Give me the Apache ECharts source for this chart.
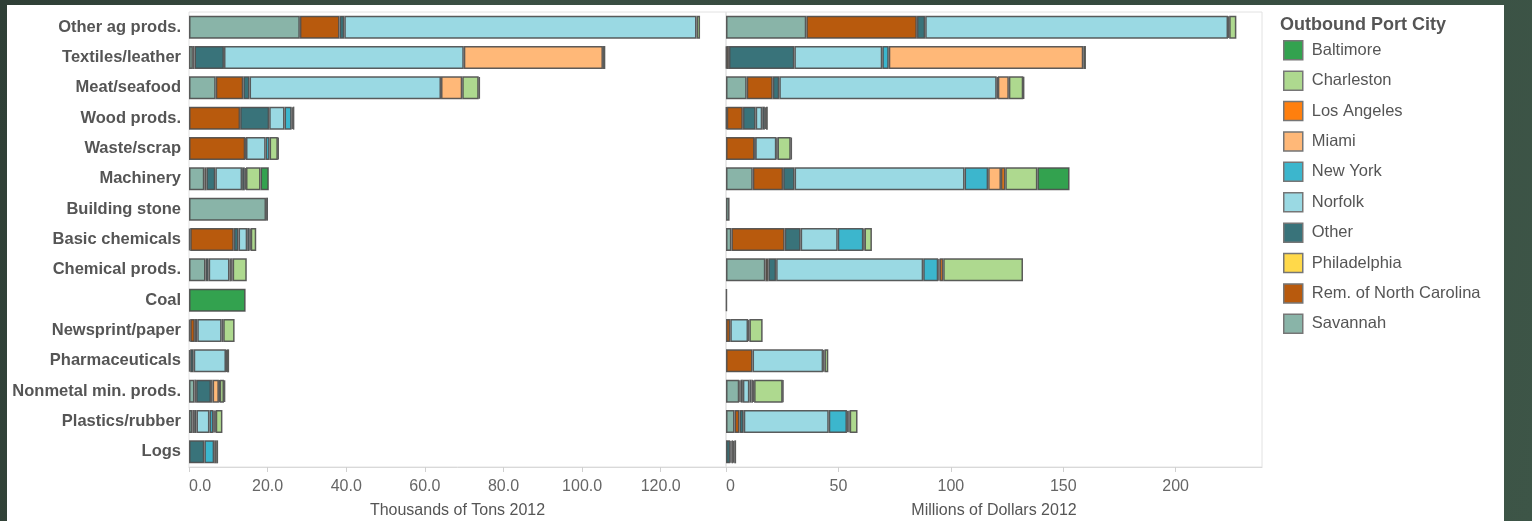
<!DOCTYPE html>
<html>
<head>
<meta charset="utf-8">
<script src="https://cdn.jsdelivr.net/npm/echarts@6/dist/echarts.min.js"></script>
<style>
  html, body { margin: 0; padding: 0; }
  body {
    width: 1532px; height: 521px; overflow: hidden; position: relative;
    background: linear-gradient(100deg, #2f3f36 0%, #3b5044 30%, #34483d 60%, #3d5547 100%);
  }
  #panel { position: absolute; left: 7px; top: 5px; width: 1497px; height: 520px; background: #ffffff; }
  #chart { position: absolute; left: 0; top: 0; width: 1532px; height: 521px; }
</style>
</head>
<body>
<div id="panel"></div>
<div id="chart"></div>
<script>
// Commodity groups, top to bottom
const categories = [
  'Other ag prods.', 'Textiles/leather', 'Meat/seafood', 'Wood prods.', 'Waste/scrap',
  'Machinery', 'Building stone', 'Basic chemicals', 'Chemical prods.', 'Coal',
  'Newsprint/paper', 'Pharmaceuticals', 'Nonmetal min. prods.', 'Plastics/rubber', 'Logs'
];

// Thousands of tons, 2012, by outbound port city (null = no shipments)
const savannahTons     = [28.2, 1.0, 6.8, null, null, 3.9, 19.6, 0.3, 4.2, null, 0.3, 0.3, 1.4, 0.9, null];
const remNCTons        = [10.1, 0.4, 7.0, 13.0, 14.3, 0.5, null, 11.1, null, null, 1.2, null, 0.4, 0.4, null];
const philadelphiaTons = [null, null, null, null, null, null, null, null, null, null, null, null, null, null, null];
const otherTons        = [1.2, 7.5, 1.6, 7.4, 0.2, 2.3, 0.5, 1.2, 0.8, null, 0.6, 0.9, 3.8, 0.6, 3.9];
const norfolkTons      = [89.6, 61.0, 48.7, 3.9, 5.0, 6.8, null, 2.2, 5.3, null, 6.2, 8.2, 0.4, 3.3, null];
const newYorkTons      = [null, null, null, 1.8, 1.0, 0.7, null, 0.6, 0.4, null, 0.4, 0.2, null, 1.0, 2.5];
const miamiTons        = [null, 35.4, 5.4, 0.3, null, 0.3, null, 0.3, 0.4, null, null, null, 1.6, 0.3, 0.5];
const losAngelesTons   = [null, null, null, null, null, null, null, null, null, null, null, null, 0.2, 0.3, null];
const charlestonTons   = [0.9, 0.6, 4.2, 0.4, 2.1, 3.7, null, 1.4, 3.6, null, 2.9, 0.6, 1.1, 1.7, 0.5];
const baltimoreTons    = [null, null, 0.3, null, 0.2, 2.1, null, null, null, 14.4, null, null, 0.3, null, null];

// Millions of dollars, 2012, by outbound port city
const savannahDollars     = [35.7, 0.3, 9.2, 0.3, null, 11.9, 1.6, 2.4, 17.5, null, null, null, 5.9, 3.8, null];
const remNCDollars        = [49.2, 1.0, 11.6, 7.2, 12.7, 13.5, null, 23.7, 1.3, null, 1.9, 11.8, 0.6, 2.2, null];
const philadelphiaDollars = [null, null, null, null, null, null, null, null, null, null, null, null, null, null, null];
const otherDollars        = [3.7, 29.1, 2.9, 5.7, 0.3, 5.1, null, 7.1, 3.5, null, null, null, 1.0, 1.9, 1.9];
const norfolkDollars      = [134.7, 39.1, 96.7, 2.9, 9.4, 75.6, null, 16.5, 65.4, null, 7.9, 31.4, 2.9, 37.8, null];
const newYorkDollars      = [0.5, 2.9, 0.5, 1.2, 0.5, 10.5, null, 11.4, 6.7, null, 0.6, 0.6, 0.9, 8.1, 0.6];
const miamiDollars        = [null, 86.5, 4.9, 0.5, null, 5.7, null, 0.5, 0.6, null, null, null, 0.7, 0.6, 0.7];
const losAngelesDollars   = [null, null, null, null, null, 1.9, null, null, 1.6, null, null, null, 0.5, 0.6, 0.5];
const charlestonDollars   = [3.2, 1.2, 6.4, 0.8, 5.9, 14.3, null, 3.3, 35.5, null, 5.9, 1.7, 12.7, 3.5, 0.8];
const baltimoreDollars    = [null, null, 0.4, null, 0.5, 14.3, null, null, null, 0.4, null, null, 0.3, null, null];

// Axis tick values
const tonsTicks = [0, 20, 40, 60, 80, 100, 120];
const dollarTicks = [0, 50, 100, 150, 200];

// Ports in stacking order (left to right inside each bar)
const ports = [
  { name: 'Savannah',               color: '#89b4a8', tons: savannahTons,     dollars: savannahDollars },
  { name: 'Rem. of North Carolina', color: '#b85a0d', tons: remNCTons,        dollars: remNCDollars },
  { name: 'Philadelphia',           color: '#ffd94a', tons: philadelphiaTons, dollars: philadelphiaDollars },
  { name: 'Other',                  color: '#39737a', tons: otherTons,        dollars: otherDollars },
  { name: 'Norfolk',                color: '#9ad9e3', tons: norfolkTons,      dollars: norfolkDollars },
  { name: 'New York',               color: '#3cb6cd', tons: newYorkTons,      dollars: newYorkDollars },
  { name: 'Miami',                  color: '#ffb878', tons: miamiTons,        dollars: miamiDollars },
  { name: 'Los Angeles',            color: '#ff7f0e', tons: losAngelesTons,   dollars: losAngelesDollars },
  { name: 'Charleston',             color: '#aed98f', tons: charlestonTons,   dollars: charlestonDollars },
  { name: 'Baltimore',              color: '#33a24f', tons: baltimoreTons,    dollars: baltimoreDollars }
];

// Legend order (alphabetical)
const legendOrder = [
  'Baltimore', 'Charleston', 'Los Angeles', 'Miami', 'New York',
  'Norfolk', 'Other', 'Philadelphia', 'Rem. of North Carolina', 'Savannah'
];

const FONT = '"Liberation Sans", Arial, Helvetica, sans-serif';
const TEXT = '#555555';
const FRAME = '#e2e2e2';

function barSeries(port, which, axisIndex) {
  return {
    type: 'bar',
    name: port.name,
    stack: which,
    xAxisIndex: axisIndex,
    yAxisIndex: axisIndex,
    data: port[which],
    barWidth: 23,
    itemStyle: { color: port.color, borderColor: 'rgba(75,75,75,0.9)', borderWidth: 1.5 },
    emphasis: { disabled: true },
    animation: false
  };
}

function valueAxis(gridIndex, max, ticks, fmt, title) {
  return {
    type: 'value',
    gridIndex: gridIndex,
    min: 0,
    max: max,
    name: title,
    nameLocation: 'middle',
    nameGap: 36,
    nameTextStyle: { color: TEXT, fontSize: 16, fontFamily: FONT },
    axisLine: { show: true, lineStyle: { color: '#d9d9d9', width: 1 } },
    axisTick: { show: true, length: 5, customValues: ticks, lineStyle: { color: '#d0d0d0' } },
    splitLine: { show: false },
    axisLabel: {
      customValues: ticks,
      formatter: fmt,
      margin: 12,
      color: '#666666',
      fontSize: 16,
      fontFamily: FONT,
      alignMinLabel: 'left'
    }
  };
}

function categoryAxis(gridIndex, showLabels) {
  return {
    type: 'category',
    gridIndex: gridIndex,
    data: categories,
    inverse: true,
    axisLine: { show: false },
    axisTick: { show: false },
    axisLabel: {
      show: showLabels,
      margin: 8,
      color: TEXT,
      fontSize: 16.5,
      fontWeight: 'bold',
      fontFamily: FONT
    }
  };
}

const series = [];
ports.forEach(p => series.push(barSeries(p, 'tons', 0)));
ports.forEach(p => series.push(barSeries(p, 'dollars', 1)));

const gridBase = {
  top: 12, height: 455, show: true, borderColor: FRAME, borderWidth: 1,
  backgroundColor: 'transparent', containLabel: false, outerBoundsMode: 'none'
};

const chart = echarts.init(document.getElementById('chart'), null, { renderer: 'canvas' });
chart.setOption({
  backgroundColor: 'transparent',
  animation: false,
  title: {
    text: 'Outbound Port City',
    left: 1280,
    top: 16,
    padding: 0,
    textStyle: { color: TEXT, fontSize: 18, fontWeight: 'bold', fontFamily: FONT }
  },
  legend: {
    data: legendOrder,
    orient: 'vertical',
    left: 1283,
    top: 40,
    padding: 0,
    itemWidth: 19,
    itemHeight: 19,
    itemGap: 9.9,
    icon: 'rect',
    selectedMode: false,
    itemStyle: { borderColor: '#767676', borderWidth: 1.5 },
    textStyle: { color: TEXT, fontSize: 16.5, fontFamily: FONT, lineHeight: 19, padding: [0, 0, 0, 4] }
  },
  grid: [
    Object.assign({ left: 189, width: 537 }, gridBase),
    Object.assign({ left: 726, width: 536 }, gridBase)
  ],
  xAxis: [
    valueAxis(0, 136.6, tonsTicks, v => v.toFixed(1), 'Thousands of Tons 2012'),
    valueAxis(1, 238.4, dollarTicks, v => String(v), 'Millions of Dollars 2012')
  ],
  yAxis: [categoryAxis(0, true), categoryAxis(1, false)],
  series: series
});
</script>
</body>
</html>
